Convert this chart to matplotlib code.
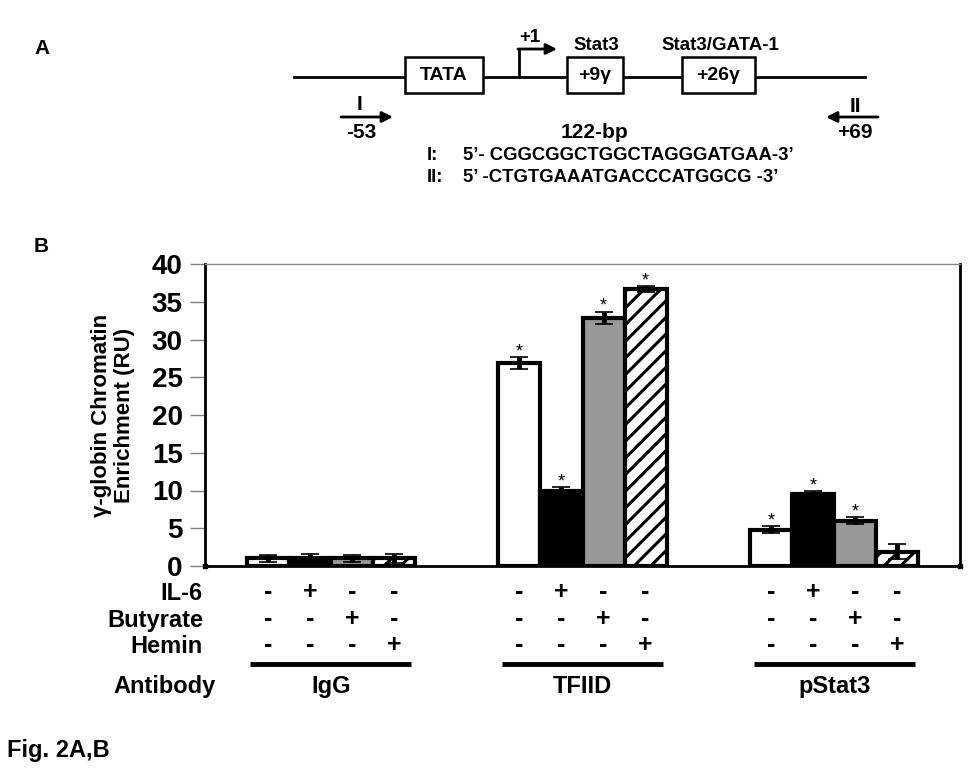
import numpy as np
import matplotlib
matplotlib.use("Agg")
import matplotlib.pyplot as plt
from matplotlib.patches import Rectangle
from matplotlib.transforms import blended_transform_factory

plt.rcParams['font.family'] = ['Liberation Sans', 'DejaVu Sans']
plt.rcParams['hatch.linewidth'] = 2.2

# data
antibodies = ['IgG', 'TFIID', 'pStat3']
treatments = ['Control', 'IL-6', 'Butyrate', 'Hemin']
ctrl = [1.0, 26.9, 4.8]
il6 = [1.0, 9.9, 9.5]
butyrate = [1.0, 32.9, 6.0]
hemin = [1.0, 36.7, 1.9]
ctrl_err = [0.45, 0.75, 0.45]
il6_err = [0.6, 0.5, 0.45]
butyrate_err = [0.45, 0.8, 0.5]
hemin_err = [0.6, 0.4, 0.95]
ctrl_sig = [False, True, True]
il6_sig = [False, True, True]
butyrate_sig = [False, True, True]
hemin_sig = [False, True, False]
row_labels = ['IL-6', 'Butyrate', 'Hemin']
row_signs = [['-', '+', '-', '-'],
             ['-', '-', '+', '-'],
             ['-', '-', '-', '+']]
yticks = [0, 5, 10, 15, 20, 25, 30, 35, 40]

values = [ctrl, il6, butyrate, hemin]
errors = [ctrl_err, il6_err, butyrate_err, hemin_err]
sigs = [ctrl_sig, il6_sig, butyrate_sig, hemin_sig]
faces = ['white', 'black', '#999999', 'white']
hatches = [None, None, None, '//']

W, H = 974, 774
fig = plt.figure(figsize=(W / 100, H / 100), dpi=100)

# overlay in pixel coords for panel A and the table text
ov = fig.add_axes([0, 0, 1, 1])
ov.set_xlim(0, W)
ov.set_ylim(H, 0)
ov.axis('off')

ax = fig.add_axes([205 / W, 1 - 566 / H, 755 / W, 302 / H])
ax.set_zorder(2)
ax.patch.set_alpha(0)

width = 0.167
base = np.arange(len(antibodies)) + 0.5
for k in range(4):
    x = base + (k - 1.5) * width
    ax.bar(x, values[k], width, color=faces[k], edgecolor='black',
           linewidth=3, hatch=hatches[k], zorder=2)
    ax.errorbar(x, values[k], yerr=errors[k], fmt='none', ecolor='black',
                elinewidth=3.5, capsize=6.5, capthick=1.2, zorder=3)
    for xi, v, e, s in zip(x, values[k], errors[k], sigs[k]):
        if s:
            ax.text(xi, v + e + 0.1, '*', ha='center', va='baseline',
                    fontsize=13)

ax.set_xlim(0, 3)
ax.set_ylim(0, 40)
ax.set_yticks(yticks)
ax.set_yticklabels([str(t) for t in yticks], fontsize=20, fontweight='bold')
ax.set_xticks([])
ax.tick_params(axis='y', length=11, width=1, color='#808080', pad=5)
for side in ['left', 'right', 'bottom']:
    ax.spines[side].set_linewidth(2)
ax.spines['top'].set_color('#888888')
ax.spines['top'].set_linewidth(1)
ax.plot([0, 3], [0, 0], 's', color='black', ms=3, clip_on=False, zorder=4)

fig.text(113 / W, 1 - 415 / H, u'\u03b3-globin Chromatin\nEnrichment (RU)',
         rotation=90, ha='center', va='center', fontsize=16,
         fontweight='bold', linespacing=1.15, multialignment='center')

# treatment table below the axis
tr = blended_transform_factory(ax.transData, ov.transData)
row_y = [600, 627, 653]
for lab, signs, yy in zip(row_labels, row_signs, row_y):
    ov.text(203, yy, lab, ha='right', va='baseline', fontsize=17,
            fontweight='bold')
    for g in range(len(antibodies)):
        for k in range(4):
            ov.text(base[g] + (k - 1.5) * width, yy - 1, signs[k],
                    transform=tr, ha='center', va='baseline', fontsize=18,
                    fontweight='bold')
for g, name in enumerate(antibodies):
    ov.plot([base[g] - 0.32, base[g] + 0.32], [664, 664], color='black',
            lw=3.5, transform=tr, solid_capstyle='butt')
    ov.text(base[g], 693, name, transform=tr, ha='center', va='baseline',
            fontsize=17, fontweight='bold')
ov.text(113, 693, 'Antibody', ha='left', va='baseline', fontsize=17,
        fontweight='bold')
ov.text(7, 757, 'Fig. 2A,B', ha='left', va='baseline', fontsize=17,
        fontweight='bold')
ov.text(41, 247, 'B', ha='center', va='center', fontsize=15,
        fontweight='bold')

# panel A: promoter diagram
ov.text(42, 49, 'A', ha='center', va='center', fontsize=15, fontweight='bold')
ov.plot([294, 865], [77, 77], color='black', lw=2, zorder=1)
boxes = [(405, 483, 'TATA'), (567, 623, u'+9\u03b3'), (682, 755, u'+26\u03b3')]
for x0, x1, lab in boxes:
    ov.add_patch(Rectangle((x0, 57), x1 - x0, 36, facecolor='white',
                           edgecolor='black', lw=1.8, zorder=2))
    ov.text((x0 + x1) / 2, 76, lab, ha='center', va='center', fontsize=14,
            fontweight='bold', zorder=3)
ov.text(596, 46, 'Stat3', ha='center', va='center', fontsize=13.5,
        fontweight='bold')
ov.text(720, 46, 'Stat3/GATA-1', ha='center', va='center', fontsize=13.5,
        fontweight='bold')
ov.plot([519, 519], [77, 49], color='black', lw=2)
ov.annotate('', xy=(557, 49), xytext=(518, 49),
            arrowprops=dict(arrowstyle='-|>', lw=2, color='black',
                            mutation_scale=16, shrinkA=0, shrinkB=0))
ov.text(530, 38, '+1', ha='center', va='center', fontsize=13.5,
        fontweight='bold')

ov.annotate('', xy=(393, 117), xytext=(341, 117),
            arrowprops=dict(arrowstyle='-|>', lw=2, color='black',
                            mutation_scale=16, shrinkA=0, shrinkB=0))
ov.text(360, 105, 'I', ha='center', va='center', fontsize=15,
        fontweight='bold')
ov.text(361, 133, '-53', ha='center', va='center', fontsize=15,
        fontweight='bold')
ov.annotate('', xy=(826, 117), xytext=(878, 117),
            arrowprops=dict(arrowstyle='-|>', lw=2, color='black',
                            mutation_scale=16, shrinkA=0, shrinkB=0))
ov.text(855, 106, 'II', ha='center', va='center', fontsize=15,
        fontweight='bold')
ov.text(855, 133, '+69', ha='center', va='center', fontsize=15,
        fontweight='bold')
ov.text(595, 132, '122-bp', ha='center', va='center', fontsize=15,
        fontweight='bold')
ov.text(427, 156, 'I:', ha='left', va='center', fontsize=13.3,
        fontweight='bold')
ov.text(463, 156, u'5\u2019- CGGCGGCTGGCTAGGGATGAA-3\u2019', ha='left',
        va='center', fontsize=13.3, fontweight='bold')
ov.text(427, 178, 'II:', ha='left', va='center', fontsize=13.3,
        fontweight='bold')
ov.text(463, 178, u'5\u2019 -CTGTGAAATGACCCATGGCG -3\u2019', ha='left',
        va='center', fontsize=13.3, fontweight='bold')

plt.savefig('out.png', dpi=100)
